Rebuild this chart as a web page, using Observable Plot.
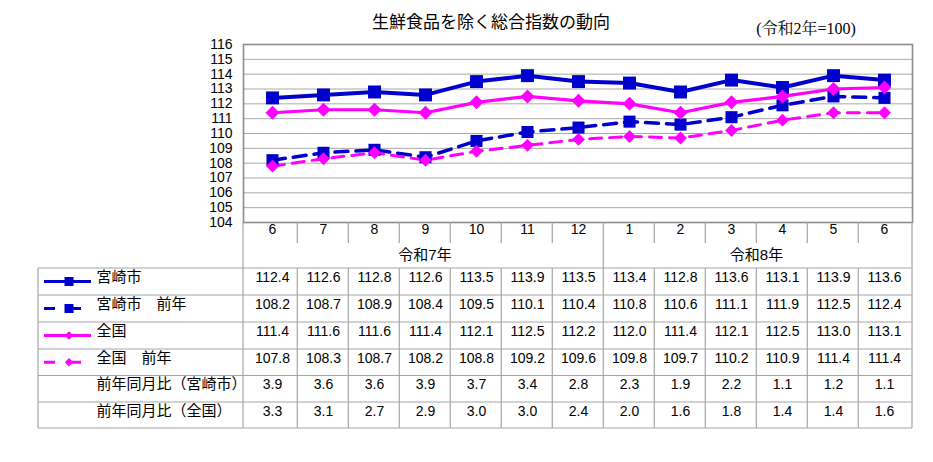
<!DOCTYPE html>
<html><head><meta charset="utf-8">
<script src="https://cdn.jsdelivr.net/npm/d3@7"></script>
<script src="https://cdn.jsdelivr.net/npm/@observablehq/plot@0.6"></script>
<style>
body{margin:0;background:#fff;}
</style></head>
<body><div id="chart"></div>
<script>
const months = ["6","7","8","9","10","11","12","1","2","3","4","5","6"];
const eras = ["令和7年","令和8年"];
const eraSpans = [[0,6],[7,12]];
const miyazaki = [112.4,112.6,112.8,112.6,113.5,113.9,113.5,113.4,112.8,113.6,113.1,113.9,113.6];
const miyazakiPrev = [108.2,108.7,108.9,108.4,109.5,110.1,110.4,110.8,110.6,111.1,111.9,112.5,112.4];
const zenkoku = [111.4,111.6,111.6,111.4,112.1,112.5,112.2,112.0,111.4,112.1,112.5,113.0,113.1];
const zenkokuPrev = [107.8,108.3,108.7,108.2,108.8,109.2,109.6,109.8,109.7,110.2,110.9,111.4,111.4];
const yoyMiyazaki = [3.9,3.6,3.6,3.9,3.7,3.4,2.8,2.3,1.9,2.2,1.1,1.2,1.1];
const yoyZenkoku = [3.3,3.1,2.7,2.9,3.0,3.0,2.4,2.0,1.6,1.8,1.4,1.4,1.6];
const yTicks = [104,105,106,107,108,109,110,111,112,113,114,115,116];
const title = "生鮮食品を除く総合指数の動向";
const baseNote = "(令和2年=100)";

const keys = months.map((m,i)=>i);
const BLUE = "#0000cc", PINK = "#ff00ff";
const FONT = "'Liberation Sans','Noto Sans CJK JP',sans-serif";
const series = [
  {label:"宮崎市", values:miyazaki, color:BLUE, dash:null, symbol:"square", r:7.3, sw:4, lr:81},
  {label:"宮崎市　前年", values:miyazakiPrev, color:BLUE, dash:"13,8", symbol:"square", r:6.8, sw:3.5, lr:81},
  {label:"全国", values:zenkoku, color:PINK, dash:null, symbol:"diamond2", r:6.3, sw:3.2, lr:45},
  {label:"全国　前年", values:zenkokuPrev, color:PINK, dash:"12,8", symbol:"diamond2", r:5.8, sw:3, lr:45}
];
const tableRows = [
  {label:"宮崎市", values:miyazaki.map(v=>v.toFixed(1)), legend:0},
  {label:"宮崎市　前年", values:miyazakiPrev.map(v=>v.toFixed(1)), legend:1},
  {label:"全国", values:zenkoku.map(v=>v.toFixed(1)), legend:2},
  {label:"全国　前年", values:zenkokuPrev.map(v=>v.toFixed(1)), legend:3},
  {label:"前年同月比（宮崎市）", values:yoyMiyazaki.map(v=>v.toFixed(1)), legend:null},
  {label:"前年同月比（全国）", values:yoyZenkoku.map(v=>v.toFixed(1)), legend:null}
];

const W=933,H=462, mT=44, mB=240, mL=243, mR=21;
const frameBottom = H-mB; // 222
const rowTops = [268,295,322,349,375.5,402,428];

const marks = [
  Plot.gridY(yTicks,{stroke:"#a9a9a9",strokeOpacity:1,strokeWidth:1}),
  Plot.axisY(yTicks,{tickSize:0,tickPadding:11,fontSize:14,fill:"#000",label:null,tickFormat:d=>String(d)}),
  Plot.frame({stroke:"#8c8c8c",strokeWidth:1.6})
];
series.forEach(s=>{
  const data = keys.map(k=>({k, v:s.values[k]}));
  marks.push(Plot.line(data,{x:"k",y:"v",stroke:s.color,strokeWidth:s.sw,strokeDasharray:s.dash||undefined}));
});
series.forEach(s=>{
  const data = keys.map(k=>({k, v:s.values[k]}));
  marks.push(Plot.dot(data,{x:"k",y:"v",symbol:s.symbol,r:s.r,fill:s.color,stroke:"none"}));
});
marks.push(Plot.text(keys,{x:d=>d,text:d=>months[d],frameAnchor:"bottom",dy:11,fontSize:14,fill:"#000"}));
tableRows.forEach((row,ri)=>{
  const cy = (rowTops[ri]+rowTops[ri+1])/2 - frameBottom;
  marks.push(Plot.text(keys,{x:d=>d,text:d=>row.values[d],frameAnchor:"bottom",dy:cy,fontSize:14,fill:"#000"}));
  marks.push(Plot.text([row.label],{text:d=>d,frameAnchor:"bottom-left",dx:96-mL,dy:cy,textAnchor:"start",fontSize:15,fill:"#000"}));
});

const plot = Plot.plot({
  width:W,height:H,marginTop:mT,marginBottom:mB,marginLeft:mL,marginRight:mR,
  x:{type:"point",domain:keys,padding:0.5,axis:null},
  y:{domain:[104,116],axis:null},
  style:{background:"#fff",overflow:"visible",fontFamily:FONT,fontSize:"14px"},
  marks
});
document.getElementById("chart").appendChild(plot);

const svg = d3.select(plot);
const xs = plot.scale("x");
const step = (W-mL-mR)/keys.length;
const colL = k => xs.apply(k)-step/2;
const colR = k => xs.apply(k)+step/2;
const g = svg.append("g").attr("stroke","#a6a6a6").attr("stroke-width",1.2).attr("fill","none");
const line=(x1,y1,x2,y2)=>g.append("line").attr("x1",x1).attr("y1",y1).attr("x2",x2).attr("y2",y2);
rowTops.forEach(y=>line(38,y,W-mR,y));
line(38,rowTops[0],38,rowTops[6]);
line(mL,frameBottom,mL,rowTops[6]);
line(W-mR,frameBottom,W-mR,rowTops[6]);
keys.slice(1).forEach(k=>{
  const x = colL(k);
  const isEraBreak = eraSpans.some(s=>s[0]===k);
  line(x, isEraBreak?frameBottom:rowTops[0], x, rowTops[6]);
  if(!isEraBreak) line(x, frameBottom, x, frameBottom+21);
});
eraSpans.forEach((s,i)=>{
  svg.append("text").attr("x",(colL(s[0])+colR(s[1]))/2).attr("y",256).attr("text-anchor","middle")
    .attr("dominant-baseline","middle").style("font-size","15px").style("font-family",FONT).attr("fill","#000").text(eras[i]);
});
tableRows.forEach((row,ri)=>{
  if(row.legend===null) return;
  const s = series[row.legend];
  const cy = (rowTops[ri]+rowTops[ri+1])/2;
  const segs = s.dash ? [[44,55],[69,81]] : [[44,91]];
  segs.forEach(([a,b])=>svg.append("line").attr("x1",a).attr("y1",cy).attr("x2",b).attr("y2",cy)
    .attr("stroke",s.color).attr("stroke-width",3));
  const sym = s.symbol==="square"?d3.symbolSquare:d3.symbolDiamond2;
  svg.append("path").attr("transform",`translate(69,${cy})`)
    .attr("d",d3.symbol(sym, s.lr)()).attr("fill",s.color);
});
svg.append("text").attr("x",491).attr("y",23).attr("text-anchor","middle").attr("dominant-baseline","middle")
  .style("font-size","17px").attr("fill","#000").style("font-family","'Noto Sans CJK JP',sans-serif").text(title);
svg.append("text").attr("x",806).attr("y",30).attr("text-anchor","middle").attr("dominant-baseline","middle")
  .style("font-size","16px").attr("fill","#000").style("font-family","'Liberation Serif','Noto Serif CJK JP','Noto Sans CJK JP',serif").text(baseNote);
</script></body></html>
